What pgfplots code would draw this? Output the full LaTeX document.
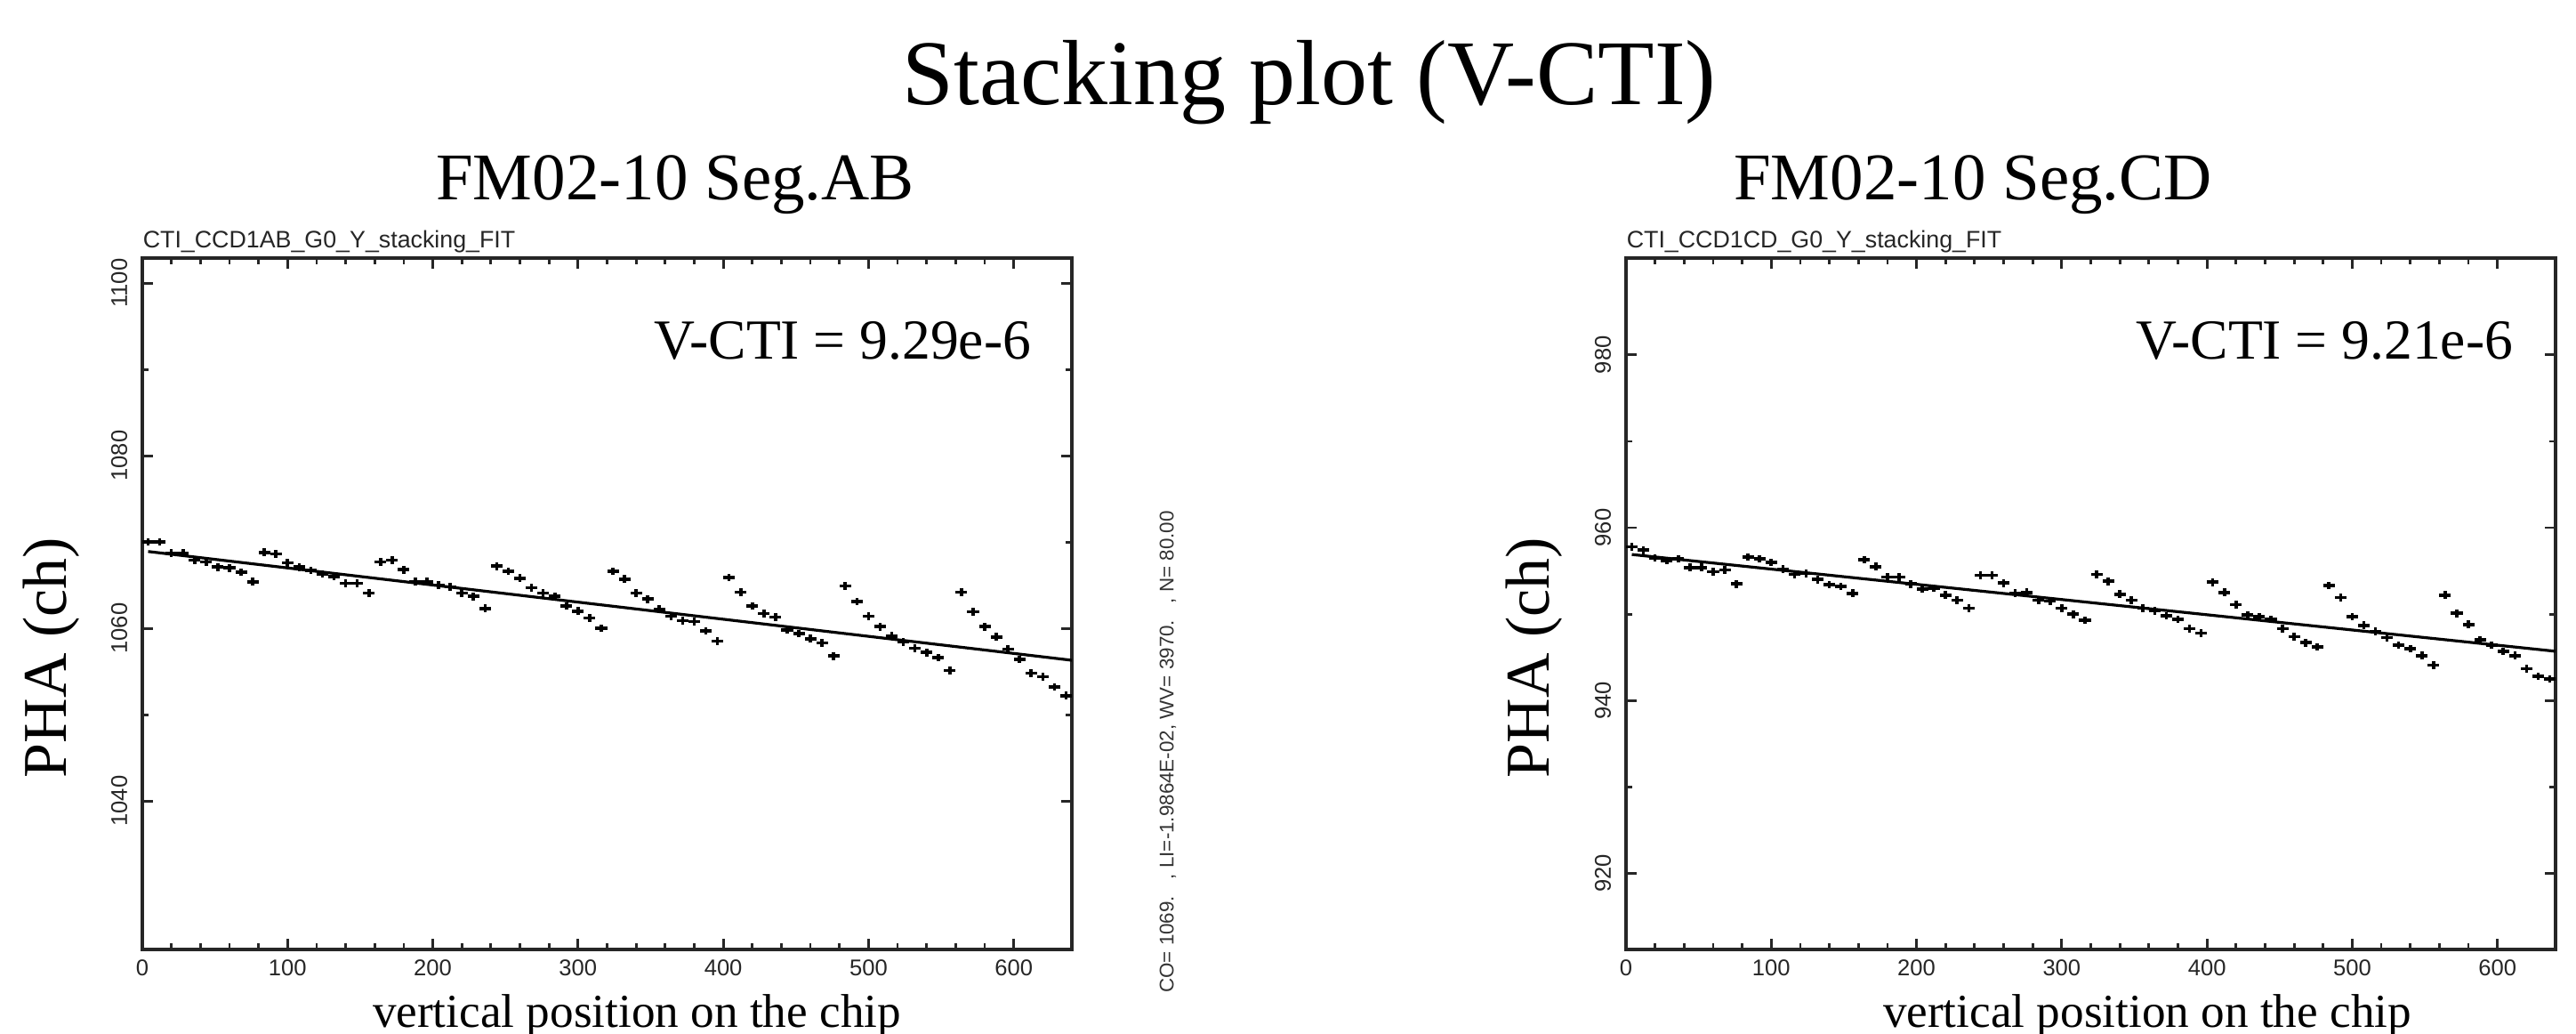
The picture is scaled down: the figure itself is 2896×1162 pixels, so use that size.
\documentclass[border=0pt]{standalone}
\usepackage{pgfplots}
\pgfplotsset{compat=1.18}
\usepackage{pgfplotstable}
\usepackage{fontspec}
\setmainfont{Liberation Serif}
\setsansfont{Liberation Sans}

% stacked PHA, segment AB (x = bin centre, y = PHA)
\pgfplotstableread{
x y
4 1070.0
12 1070.0
20 1068.7
28 1068.7
36 1067.9
44 1067.7
52 1067.1
60 1067.0
68 1066.5
76 1065.4
84 1068.8
92 1068.6
100 1067.6
108 1067.1
116 1066.7
124 1066.3
132 1066.0
140 1065.2
148 1065.2
156 1064.1
164 1067.7
172 1067.9
180 1066.8
188 1065.4
196 1065.4
204 1065.0
212 1064.8
220 1064.1
228 1063.7
236 1062.3
244 1067.2
252 1066.6
260 1065.8
268 1064.7
276 1064.1
284 1063.7
292 1062.6
300 1062.0
308 1061.2
316 1060.0
324 1066.6
332 1065.7
340 1064.1
348 1063.4
356 1062.2
364 1061.4
372 1060.9
380 1060.8
388 1059.7
396 1058.5
404 1065.9
412 1064.2
420 1062.6
428 1061.7
436 1061.3
444 1059.8
452 1059.4
460 1058.8
468 1058.3
476 1056.8
484 1064.9
492 1063.1
500 1061.4
508 1060.2
516 1059.1
524 1058.4
532 1057.7
540 1057.2
548 1056.6
556 1055.1
564 1064.2
572 1061.9
580 1060.2
588 1059.0
596 1057.6
604 1056.4
612 1054.8
620 1054.4
628 1053.2
636 1052.2
}\segab

% stacked PHA, segment CD
\pgfplotstableread{
x y
4 957.8
12 957.4
20 956.5
28 956.2
36 956.4
44 955.4
52 955.4
60 954.9
68 955.1
76 953.5
84 956.6
92 956.4
100 956.0
108 955.2
116 954.6
124 954.7
132 954.0
140 953.4
148 953.2
156 952.4
164 956.3
172 955.5
180 954.3
188 954.3
196 953.5
204 952.9
212 953.0
220 952.2
228 951.6
236 950.7
244 954.5
252 954.5
260 953.6
268 952.4
276 952.5
284 951.6
292 951.5
300 950.7
308 950.0
316 949.3
324 954.6
332 953.8
340 952.3
348 951.6
356 950.7
364 950.4
372 949.8
380 949.4
388 948.3
396 947.8
404 953.7
412 952.5
420 951.1
428 949.9
436 949.7
444 949.4
452 948.3
460 947.4
468 946.7
476 946.2
484 953.3
492 951.9
500 949.7
508 948.7
516 948.0
524 947.3
532 946.4
540 946.0
548 945.2
556 944.1
564 952.2
572 950.1
580 948.8
588 947.0
596 946.4
604 945.7
612 945.2
620 943.7
628 942.8
636 942.5
}\segcd

\pgfplotsset{
  stackaxis/.style={
    scale only axis, width=261.25pt, height=194.25pt,
    anchor=south west,
    xmin=0, xmax=640, xtick={0,100,...,600}, minor x tick num=4,
    minor y tick num=1,
    tick align=inside,
    axis line style={line width=1pt, black!85},
    every tick/.append style={line width=0.7pt, black!85},
    major tick length=3pt, minor tick length=1.8pt,
    ticklabel style={font=\sffamily\fontsize{6.4}{7}\selectfont, black!85},
    /pgf/number format/assume math mode=true,
    /pgf/number format/1000 sep={},
    xticklabel style={anchor=north, inner sep=0pt, yshift=-2.6pt},
    yticklabel style={xshift=-4pt, rotate=90, anchor=south, inner sep=0pt},
  },
  pts/.style={draw=none, mark=none,
    error bars/.cd, x dir=both, x fixed=4, y dir=both, y fixed=0.45,
    error mark=none, error bar style={draw=black, solid, line width=0.9pt}},
  fit/.style={black, line width=0.8pt, mark=none},
}

\begin{document}
% picture units: 1 unit = 1 pixel of the 2896x1162 target, origin bottom left
\begin{tikzpicture}[x=0.25pt, y=0.25pt]
\useasboundingbox (0,0) rectangle (2896,1162);

\node[anchor=base, font=\fontsize{26}{30}\selectfont] at (1472,1044) {Stacking plot (V-CTI)};
\node[anchor=base, font=\fontsize{18.75}{22}\selectfont] at (759,937) {FM02-10 Seg.AB};
\node[anchor=base, font=\fontsize{18.75}{22}\selectfont] at (2218,937) {FM02-10 Seg.CD};

% left panel
\begin{axis}[stackaxis, at={(40pt,23.75pt)},
  ymin=1022.8, ymax=1102.9, ytick={1040,1060,1080,1100}]
\addplot[pts] table[x=x, y=y] {\segab};
\addplot[fit] coordinates {(4,1068.9) (640,1056.3)};
\end{axis}

% right panel
\begin{axis}[stackaxis, at={(457pt,23.75pt)},
  ymin=911.2, ymax=991.2, ytick={920,940,960,980}]
\addplot[pts] table[x=x, y=y] {\segcd};
\addplot[fit] coordinates {(4,956.9) (640,945.7)};
\end{axis}

% plot headers from the fitting program
\node[anchor=base west, inner sep=0pt, font=\sffamily\fontsize{6.7}{7}\selectfont, black!85] at (160,883) {CTI\_CCD1AB\_G0\_Y\_stacking\_FIT};
\node[anchor=base west, inner sep=0pt, font=\sffamily\fontsize{6.7}{7}\selectfont, black!85] at (1828,883) {CTI\_CCD1CD\_G0\_Y\_stacking\_FIT};
\node[rotate=90, inner sep=0pt, font=\sffamily\fontsize{5.6}{6}\selectfont, black!80] at (1313,317) {CO= 1069.\ \ \ , LI=-1.9864E-02, WV= 3970.\ \ \ , N= 80.00};

\node[anchor=base east, inner sep=0pt, font=\fontsize{15.9}{18}\selectfont] at (1160,758) {V-CTI = 9.29e-6};
\node[anchor=base east, inner sep=0pt, font=\fontsize{15.9}{18}\selectfont] at (2826,758) {V-CTI = 9.21e-6};

\node[rotate=90, inner sep=0pt, font=\fontsize{17.5}{20}\selectfont] at (58,423) {PHA (ch)};
\node[rotate=90, inner sep=0pt, font=\fontsize{17.5}{20}\selectfont] at (1725,423) {PHA (ch)};

\node[anchor=base, inner sep=0pt, font=\fontsize{13.3}{16}\selectfont] at (716,7) {vertical position on the chip};
\node[anchor=base, inner sep=0pt, font=\fontsize{13.3}{16}\selectfont] at (2414,7) {vertical position on the chip};
\end{tikzpicture}
\end{document}
